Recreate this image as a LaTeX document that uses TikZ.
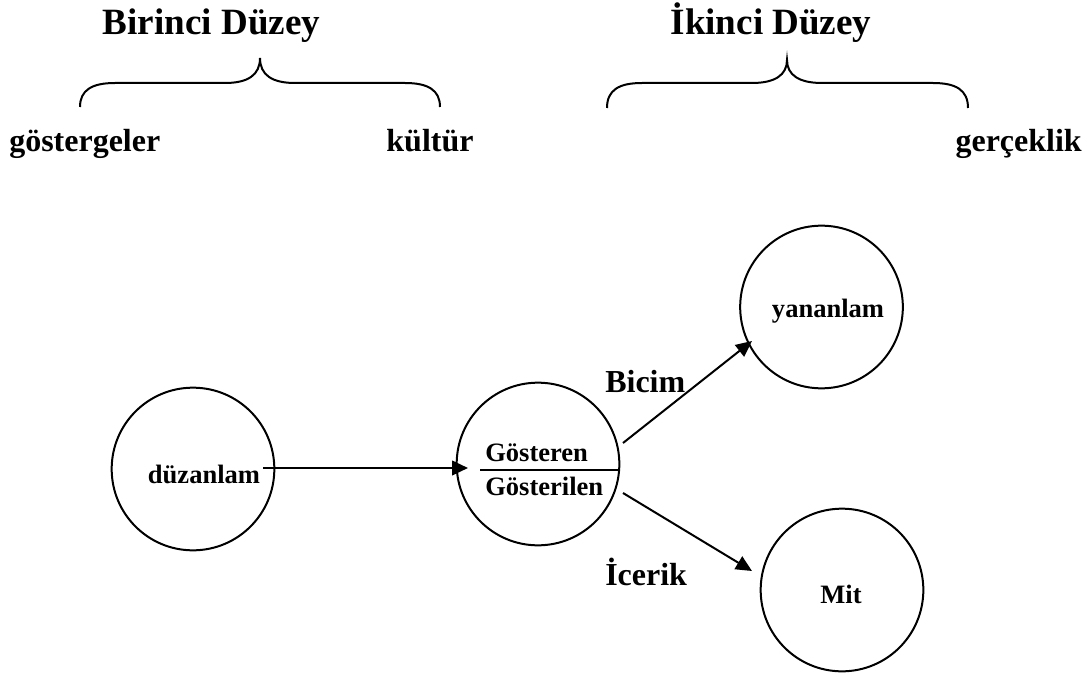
\documentclass[tikz,border=0pt]{standalone}
\usepackage{fontspec}
\setmainfont{Liberation Serif}
\usetikzlibrary{arrows.meta}
\begin{document}
\begin{tikzpicture}[x=0.75pt,y=-0.75pt,
  circ/.style={draw,line width=1.5pt,circle,minimum size=122pt,inner sep=0pt},
  ntext/.style={font=\fontsize{19.9}{22}\selectfont\bfseries,inner sep=0pt},
  lab/.style={font=\fontsize{24}{28}\selectfont\bfseries,inner sep=0pt},
  ttl/.style={font=\fontsize{27.8}{32}\selectfont\bfseries,inner sep=0pt},
  brace/.style={line width=1.5pt},
  arr/.style={line width=1.5pt,-{Triangle[length=12pt,width=11pt]}}]
\useasboundingbox (0,0) rectangle (1088,677);
% titles and labels
\node[ttl,anchor=base] (t1) at (211.5,35) {Birinci Düzey};
\node[ttl,anchor=base] (t2) at (771,35) {İkinci Düzey};
\node[lab,anchor=base west] (l1) at (9,152) {göstergeler};
\node[lab,anchor=base] (l2) at (430,152) {kültür};
\node[lab,anchor=base east] (l3) at (1082,152) {gerçeklik};
% braces
\draw[brace] (80,107) .. controls (80,90) and (92,83) .. (115,83) -- (225,83)
  .. controls (248,83) and (260,75) .. (260,58)
  .. controls (260,75) and (272,83) .. (295,83) -- (405,83)
  .. controls (428,83) and (440,90) .. (440,107);
\draw[brace] (607,108) .. controls (607,90) and (619,83) .. (642,83) -- (752,83)
  .. controls (775,83) and (787,75) .. (787,60)
  .. controls (787,75) and (799,83) .. (822,83) -- (933,83)
  .. controls (956,83) and (968,90) .. (968,108);
% circles
\node[circ] (c1) at (193,469) {};
\node[circ] (c2) at (538,464) {};
\node[circ] (c3) at (821.5,307) {};
\node[circ] (c4) at (842,590) {};
% circle texts
\node[ntext,anchor=base] (n1) at (204,483) {düzanlam};
\node[ntext,anchor=base] (n3) at (828,317) {yananlam};
\node[ntext,anchor=base] (n4) at (841,603) {Mit};
\node[ntext,anchor=base west] (g1) at (485,461) {Gösteren};
\node[ntext,anchor=base west] (g2) at (485,495) {Gösterilen};
\coordinate (dl) at (480,470);
\coordinate (dr) at (619,470);
\draw[line width=2.2pt] (dl) -- (dr);
% edge labels
\node[lab,anchor=base west] (b1) at (605,392) {Bicim};
\node[lab,anchor=base west] (b2) at (605,585) {İcerik};
% arrows
\coordinate (a1s) at (263,468);
\coordinate (a1e) at (468,468);
\coordinate (a2s) at (623,443);
\coordinate (a2e) at (752,341);
\coordinate (a3s) at (623,493);
\coordinate (a3e) at (752,571);
\draw[arr] (a1s) -- (a1e);
\draw[arr] (a2s) -- (a2e);
\draw[arr] (a3s) -- (a3e);
\end{tikzpicture}
\end{document}
